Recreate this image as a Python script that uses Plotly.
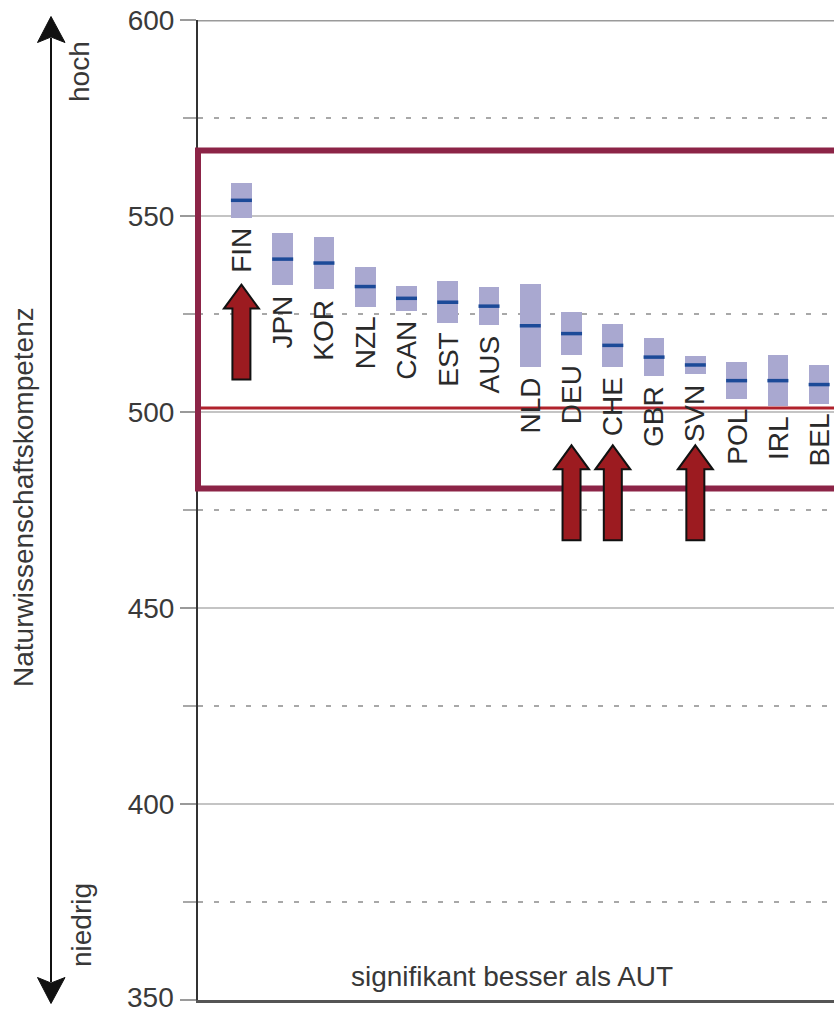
import plotly.graph_objects as go

# PISA science scores with 95% confidence intervals
countries = ["FIN", "JPN", "KOR", "NZL", "CAN", "EST", "AUS", "NLD",
             "DEU", "CHE", "GBR", "SVN", "POL", "IRL", "BEL"]
mean_score = [554, 539, 538, 532, 529, 528, 527, 522,
              520, 517, 514, 512, 508, 508, 507]
ci_half = [4.5, 6.7, 6.7, 5.1, 3.2, 5.3, 4.9, 10.6,
           5.5, 5.5, 4.9, 2.3, 4.7, 6.5, 4.9]
oecd_mean = 501
frame_low, frame_high = 480.5, 566.7
arrow_countries = ["FIN", "DEU", "CHE", "SVN"]
arrow_tips = [532.5, 491.5, 491.5, 491.5]
y_ticks = [350, 400, 450, 500, 550, 600]

FIG_W, FIG_H = 834, 1012
M_L, M_R, M_T, M_B = 198, 0, 20, 12
PLOT_W = FIG_W - M_L - M_R
PLOT_H = FIG_H - M_T - M_B
FONT = "Liberation Sans, Arial, sans-serif"


def xp(px):
    return (px - M_L) / PLOT_W


def yp(py):
    return (FIG_H - M_B - py) / PLOT_H


idx = list(range(len(countries)))
lows = [m - h for m, h in zip(mean_score, ci_half)]
spans = [2 * h for h in ci_half]

fig = go.Figure()
fig.add_trace(go.Bar(
    x=idx, y=spans, base=lows, width=0.5,
    marker=dict(color="#A9A8D0", line=dict(width=0)),
    hoverinfo="skip", showlegend=False,
))
fig.add_trace(go.Scatter(
    x=idx, y=mean_score, mode="markers",
    marker=dict(symbol="line-ew", size=15,
                line=dict(width=3.5, color="#1C4A98")),
    showlegend=False,
))

annotations = []
for i, (name, lo) in enumerate(zip(countries, lows)):
    annotations.append(dict(
        x=i, y=lo, xref="x", yref="y", text=name, showarrow=False,
        textangle=-90, xanchor="center", yanchor="top", yshift=-8,
        font=dict(family=FONT, size=28, color="#2a2a2a"),
    ))

side_font = dict(family=FONT, size=28, color="#383838")
tick_font = dict(family=FONT, size=28, color="#3a3a3a")
annotations += [
    dict(x=xp(24), y=yp(497), xref="paper", yref="paper",
         text="Naturwissenschaftskompetenz", textangle=-90, showarrow=False,
         xanchor="center", yanchor="middle", font=side_font),
    dict(x=xp(80), y=yp(72), xref="paper", yref="paper", text="hoch",
         textangle=-90, showarrow=False, xanchor="center", yanchor="middle",
         font=side_font),
    dict(x=xp(81), y=yp(925), xref="paper", yref="paper", text="niedrig",
         textangle=-90, showarrow=False, xanchor="center", yanchor="middle",
         font=side_font),
    dict(x=xp(512), y=yp(976), xref="paper", yref="paper",
         text="signifikant besser als AUT", showarrow=False,
         xanchor="center", yanchor="middle", font=side_font),
    # lowest tick label, nudged up so it stays inside the page
    dict(x=xp(176), y=y_ticks[0], xref="paper", yref="y",
         text=str(y_ticks[0]), showarrow=False, xanchor="right",
         yanchor="middle", yshift=3, font=tick_font),
]

shapes = []
# top border at 600
shapes.append(dict(type="line", xref="paper", yref="y", x0=0, x1=1,
                   y0=600, y1=600, line=dict(color="#9a9a9a", width=3),
                   layer="above"))
# OECD average line
shapes.append(dict(type="line", xref="paper", yref="y", x0=0, x1=1,
                   y0=oecd_mean, y1=oecd_mean,
                   line=dict(color="#B0222C", width=3), layer="above"))
# frame around the leading group
shapes.append(dict(type="rect", xref="paper", yref="y", x0=0, x1=1.02,
                   y0=frame_low, y1=frame_high,
                   line=dict(color="#8C2447", width=6), layer="above"))

# block arrows (pixel geometry anchored at a category and a score)
arrow_path = ("M0,0 L17.5,-24 L9,-24 L9,-95 L-9,-95 L-9,-24 "
              "L-17.5,-24 Z")
for name, tip in zip(arrow_countries, arrow_tips):
    shapes.append(dict(
        type="path", xref="x", yref="y",
        xsizemode="pixel", ysizemode="pixel",
        xanchor=countries.index(name), yanchor=tip,
        path=arrow_path, fillcolor="#9C1B20",
        line=dict(color="#111111", width=2), layer="above",
    ))

# vertical double arrow on the left (hoch / niedrig)
ax_x = 51
shapes.append(dict(type="line", xref="paper", yref="paper",
                   x0=xp(ax_x), x1=xp(ax_x), y0=yp(38), y1=yp(982),
                   line=dict(color="#111111", width=2)))
top_head = (f"M{xp(ax_x)},{yp(16.5)} L{xp(37.5)},{yp(42.5)} "
            f"L{xp(ax_x)},{yp(37)} L{xp(65)},{yp(42.5)} Z")
bot_head = (f"M{xp(ax_x)},{yp(1003.5)} L{xp(37.5)},{yp(977.5)} "
            f"L{xp(ax_x)},{yp(983)} L{xp(65)},{yp(977.5)} Z")
for p in (top_head, bot_head):
    shapes.append(dict(type="path", xref="paper", yref="paper", path=p,
                       fillcolor="#111111", line=dict(color="#111111", width=1)))

tick_text = ["" if v == y_ticks[0] else str(v) for v in y_ticks]

fig.update_layout(
    width=FIG_W, height=FIG_H,
    margin=dict(l=M_L, r=M_R, t=M_T, b=M_B, pad=0, autoexpand=False),
    paper_bgcolor="white", plot_bgcolor="white",
    font=dict(family=FONT, size=28, color="#333333"),
    showlegend=False,
    bargap=0,
    xaxis=dict(range=[-1.052, 14.36], showgrid=False, zeroline=False,
               showticklabels=False, ticks="", showline=True,
               linecolor="#555555", linewidth=3, fixedrange=True,
               automargin=False),
    yaxis=dict(range=[350, 600], tickmode="array", tickvals=y_ticks,
               ticktext=tick_text,
               ticks="outside", ticklen=16, tickwidth=2,
               tickcolor="#9a9a9a", showline=True, linecolor="#333333",
               linewidth=2, showgrid=True, gridcolor="#c4c4c4", gridwidth=2,
               zeroline=False, ticklabeloverflow="allow", automargin=False,
               tickfont=tick_font,
               minor=dict(tickmode="array", tickvals=[375, 425, 475, 525, 575],
                          ticks="outside", ticklen=13, tickwidth=2,
                          tickcolor="#a8a8a8", showgrid=True,
                          gridcolor="#a8a8a8", gridwidth=2,
                          griddash="5px,11px"),
               fixedrange=True),
    annotations=annotations,
    shapes=shapes,
)

fig.write_html("out.html")
